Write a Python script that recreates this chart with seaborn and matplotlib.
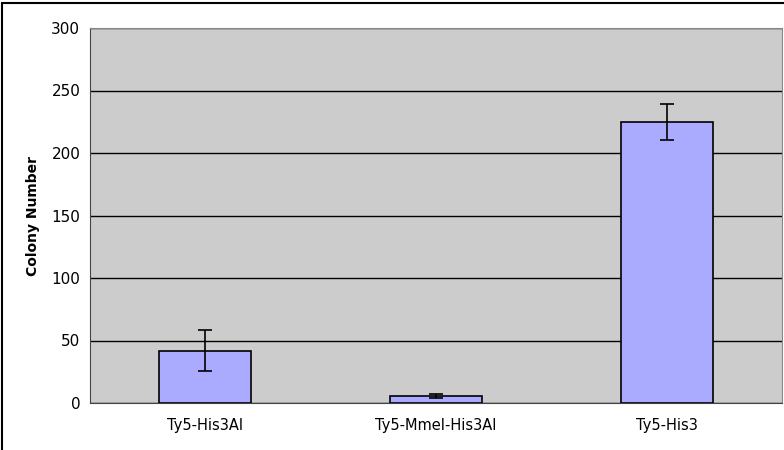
import numpy as np
import pandas as pd
import seaborn as sns
import matplotlib.pyplot as plt
from matplotlib.patches import Rectangle

strains = ['Ty5-His3AI', 'Ty5-MmeI-His3AI', 'Ty5-His3']
colonies = [42, 5.5, 225]
errors = [16.5, 1.5, 14.5]

df = pd.DataFrame({'Strain': strains, 'Colonies': colonies})

sns.set_style('white')
plt.rcParams['font.family'] = ['DejaVu Sans']
plt.rcParams['text.color'] = 'black'
plt.rcParams['xtick.color'] = 'black'
plt.rcParams['ytick.color'] = 'black'
plt.rcParams['axes.labelcolor'] = 'black'

fig = plt.figure(figsize=(7.84, 4.5), dpi=100)
ax = fig.add_axes([90 / 784, 47 / 450, 692 / 784, 375 / 450])
ax.set_facecolor('#cccccc')

sns.barplot(data=df, x='Strain', y='Colonies', color='#aaaaff', width=0.4,
            edgecolor='black', linewidth=1.2, saturation=1, ax=ax, zorder=3)
ax.errorbar(range(len(strains)), colonies, yerr=errors, fmt='none',
            ecolor='black', elinewidth=1.2, capsize=5, capthick=1.2, zorder=4)

ax.set_ylim(0, 300)
ax.set_xlim(-0.5, 2.5)
ax.set_yticks(range(0, 301, 50))
ax.yaxis.grid(True, color='black', linewidth=1)
ax.set_axisbelow(True)

ax.set_xticks([0.5, 1.5], minor=True)
ax.tick_params(axis='x', which='major', length=0, labelsize=10.5, pad=11)
ax.tick_params(axis='x', which='minor', length=4, color='#555555', direction='out')
ax.tick_params(axis='y', length=4, color='#555555', direction='out', labelsize=11, pad=3)

for side in ['top', 'right']:
    ax.spines[side].set_color('#888888')
for side in ['left', 'bottom']:
    ax.spines[side].set_color('#444444')

ax.set_xlabel('')
ax.set_ylabel('Colony Number', fontsize=10, fontweight='bold', labelpad=8)

fig.patches.append(Rectangle((2 / 784, -0.1), 1.2, 1.1 - 3 / 450, transform=fig.transFigure,
                             fill=False, edgecolor='black', linewidth=1.5))

plt.savefig('out.png', dpi=100)
